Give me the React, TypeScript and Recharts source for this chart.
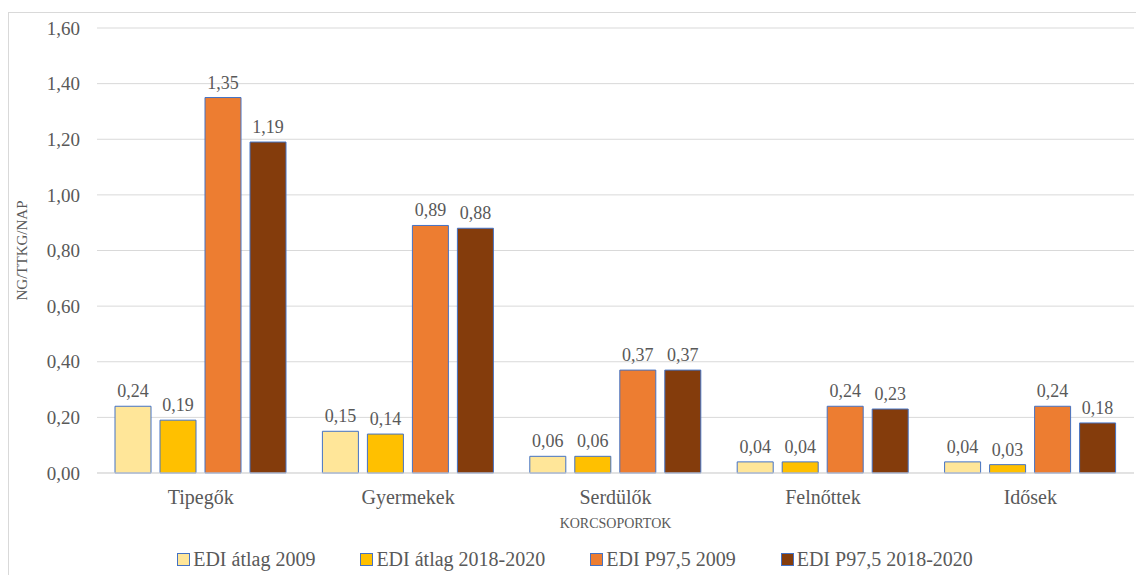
import React from "react";
import {
  BarChart,
  Bar,
  XAxis,
  YAxis,
  CartesianGrid,
  Legend,
  LabelList,
} from "recharts";

const ageGroups = ["Tipegők", "Gyermekek", "Serdülők", "Felnőttek", "Idősek"];
const ediAvg2009 = [0.24, 0.15, 0.06, 0.04, 0.04];
const ediAvg2018 = [0.19, 0.14, 0.06, 0.04, 0.03];
const ediP975_2009 = [1.35, 0.89, 0.37, 0.24, 0.24];
const ediP975_2018 = [1.19, 0.88, 0.37, 0.23, 0.18];
const yTicks = [0, 0.2, 0.4, 0.6, 0.8, 1.0, 1.2, 1.4, 1.6];

const series = [
  { key: "avg2009", name: "EDI átlag 2009", color: "#FFE699", values: ediAvg2009 },
  { key: "avg2018", name: "EDI átlag 2018-2020", color: "#FFC000", values: ediAvg2018 },
  { key: "p2009", name: "EDI P97,5 2009", color: "#ED7D31", values: ediP975_2009 },
  { key: "p2018", name: "EDI P97,5 2018-2020", color: "#843C0C", values: ediP975_2018 },
];

const data = ageGroups.map((group, i) => {
  const row: Record<string, any> = { group };
  series.forEach((s) => (row[s.key] = s.values[i]));
  return row;
});

const FONT = "'Liberation Serif', 'Times New Roman', serif";
const TEXT = "#595959";
const GRID = "#d9d9d9";
const EDGE = "#4472C4";

const fmt = (v: any) => Number(v).toFixed(2).replace(".", ",");

const LegendContent = () => (
  <div
    style={{
      display: "flex",
      justifyContent: "center",
      gap: 45,
      paddingLeft: 14,
      fontFamily: FONT,
      fontSize: 20,
      color: TEXT,
    }}
  >
    {series.map((s) => (
      <div key={s.key} style={{ display: "flex", alignItems: "center" }}>
        <span
          style={{
            width: 11,
            height: 11,
            background: s.color,
            border: `1px solid ${EDGE}`,
            marginRight: 3,
            display: "inline-block",
          }}
        />
        <span>{s.name}</span>
      </div>
    ))}
  </div>
);

export default function App() {
  return (
    <div
      style={{
        position: "fixed",
        left: 0,
        top: 0,
        width: 1136,
        height: 575,
        background: "#fff",
        overflow: "hidden",
      }}
    >
      <div
        style={{
          position: "absolute",
          left: 8,
          top: 12,
          width: 1200,
          height: 600,
          borderTop: `1px solid ${GRID}`,
          borderLeft: `1px solid ${GRID}`,
        }}
      />
      <div style={{ position: "absolute", left: 0, top: 0 }}>
        <BarChart
          width={1136}
          height={575}
          data={data}
          margin={{ top: 28, right: 2, left: 0, bottom: 0 }}
          barCategoryGap={18}
          barGap={9}
        >
          <CartesianGrid vertical={false} stroke={GRID} />
          <XAxis
            dataKey="group"
            height={102}
            axisLine={{ stroke: GRID }}
            tickLine={false}
            tickMargin={11}
            tick={{ fill: TEXT, fontSize: 20, fontFamily: FONT }}
            label={{
              content: ({ viewBox }: any) => (
                <text
                  x={viewBox.x + viewBox.width / 2}
                  y={viewBox.y + 55}
                  textAnchor="middle"
                  fill={TEXT}
                  fontSize={14}
                  fontFamily={FONT}
                >
                  KORCSOPORTOK
                </text>
              ),
            }}
          />
          <YAxis
            width={97}
            domain={[0, 1.6]}
            ticks={yTicks}
            tickFormatter={fmt}
            axisLine={false}
            tickLine={false}
            tickSize={0}
            tickMargin={17}
            tick={{ fill: TEXT, fontSize: 19, fontFamily: FONT }}
            label={{
              content: ({ viewBox }: any) => (
                <text
                  x={22}
                  y={viewBox.y + viewBox.height / 2}
                  transform={`rotate(-90 22 ${viewBox.y + viewBox.height / 2})`}
                  textAnchor="middle"
                  dominantBaseline="central"
                  fill={TEXT}
                  fontSize={15}
                  fontFamily={FONT}
                >
                  NG/TTKG/NAP
                </text>
              ),
            }}
          />
          <Legend
            verticalAlign="middle"
            align="center"
            layout="horizontal"
            wrapperStyle={{ top: 548, left: 0, width: 1136 }}
            content={<LegendContent />}
          />
          {series.map((s) => (
            <Bar
              key={s.key}
              dataKey={s.key}
              name={s.name}
              fill={s.color}
              stroke={EDGE}
              strokeWidth={1}
              isAnimationActive={false}
            >
              <LabelList
                dataKey={s.key}
                position="top"
                offset={9}
                formatter={fmt}
                fill={TEXT}
                fontSize={18}
                fontFamily={FONT}
              />
            </Bar>
          ))}
        </BarChart>
      </div>
    </div>
  );
}
